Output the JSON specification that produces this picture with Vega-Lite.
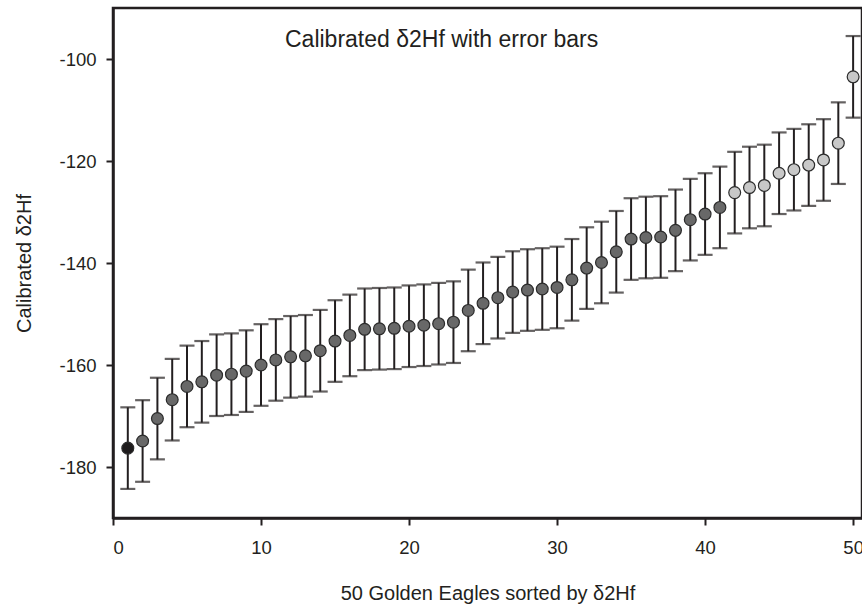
{
  "$schema": "https://vega.github.io/schema/vega-lite/v6.json",
  "width": 749,
  "height": 510,
  "autosize": "none",
  "padding": {"left": 113, "top": 8, "right": 0, "bottom": 90},
  "background": "white",
  "config": {
    "view": {"stroke": "#231f20", "strokeWidth": 2.5},
    "font": "Liberation Sans"
  },
  "title": {
    "text": "Calibrated δ2Hf with error bars",
    "font": "Liberation Sans",
    "fontSize": 23,
    "fontWeight": "normal",
    "color": "#231f20",
    "anchor": "start",
    "frame": "group",
    "dx": 172,
    "baseline": "top",
    "offset": -44
  },
  "data": {
    "values": [
      {"n": 1, "v": -176.3, "lo": -184.3, "hi": -168.3, "g": "a"},
      {"n": 2, "v": -174.9, "lo": -182.9, "hi": -166.9, "g": "b"},
      {"n": 3, "v": -170.5, "lo": -178.5, "hi": -162.5, "g": "b"},
      {"n": 4, "v": -166.8, "lo": -174.8, "hi": -158.8, "g": "b"},
      {"n": 5, "v": -164.2, "lo": -172.2, "hi": -156.2, "g": "b"},
      {"n": 6, "v": -163.3, "lo": -171.3, "hi": -155.3, "g": "b"},
      {"n": 7, "v": -162.0, "lo": -170.0, "hi": -154.0, "g": "b"},
      {"n": 8, "v": -161.8, "lo": -169.8, "hi": -153.8, "g": "b"},
      {"n": 9, "v": -161.2, "lo": -169.2, "hi": -153.2, "g": "b"},
      {"n": 10, "v": -160.0, "lo": -168.0, "hi": -152.0, "g": "b"},
      {"n": 11, "v": -159.0, "lo": -167.0, "hi": -151.0, "g": "b"},
      {"n": 12, "v": -158.4, "lo": -166.4, "hi": -150.4, "g": "b"},
      {"n": 13, "v": -158.2, "lo": -166.2, "hi": -150.2, "g": "b"},
      {"n": 14, "v": -157.2, "lo": -165.2, "hi": -149.2, "g": "b"},
      {"n": 15, "v": -155.3, "lo": -163.3, "hi": -147.3, "g": "b"},
      {"n": 16, "v": -154.2, "lo": -162.2, "hi": -146.2, "g": "b"},
      {"n": 17, "v": -153.0, "lo": -161.0, "hi": -145.0, "g": "b"},
      {"n": 18, "v": -152.9, "lo": -160.9, "hi": -144.9, "g": "b"},
      {"n": 19, "v": -152.8, "lo": -160.8, "hi": -144.8, "g": "b"},
      {"n": 20, "v": -152.4, "lo": -160.4, "hi": -144.4, "g": "b"},
      {"n": 21, "v": -152.2, "lo": -160.2, "hi": -144.2, "g": "b"},
      {"n": 22, "v": -151.9, "lo": -159.9, "hi": -143.9, "g": "b"},
      {"n": 23, "v": -151.6, "lo": -159.6, "hi": -143.6, "g": "b"},
      {"n": 24, "v": -149.3, "lo": -157.3, "hi": -141.3, "g": "b"},
      {"n": 25, "v": -147.9, "lo": -155.9, "hi": -139.9, "g": "b"},
      {"n": 26, "v": -146.8, "lo": -154.8, "hi": -138.8, "g": "b"},
      {"n": 27, "v": -145.7, "lo": -153.7, "hi": -137.7, "g": "b"},
      {"n": 28, "v": -145.3, "lo": -153.3, "hi": -137.3, "g": "b"},
      {"n": 29, "v": -145.1, "lo": -153.1, "hi": -137.1, "g": "b"},
      {"n": 30, "v": -144.8, "lo": -152.8, "hi": -136.8, "g": "b"},
      {"n": 31, "v": -143.3, "lo": -151.3, "hi": -135.3, "g": "b"},
      {"n": 32, "v": -141.0, "lo": -149.0, "hi": -133.0, "g": "b"},
      {"n": 33, "v": -139.9, "lo": -147.9, "hi": -131.9, "g": "b"},
      {"n": 34, "v": -137.8, "lo": -145.8, "hi": -129.8, "g": "b"},
      {"n": 35, "v": -135.3, "lo": -143.3, "hi": -127.3, "g": "b"},
      {"n": 36, "v": -135.0, "lo": -143.0, "hi": -127.0, "g": "b"},
      {"n": 37, "v": -134.9, "lo": -142.9, "hi": -126.9, "g": "b"},
      {"n": 38, "v": -133.6, "lo": -141.6, "hi": -125.6, "g": "b"},
      {"n": 39, "v": -131.5, "lo": -139.5, "hi": -123.5, "g": "b"},
      {"n": 40, "v": -130.4, "lo": -138.4, "hi": -122.4, "g": "b"},
      {"n": 41, "v": -129.1, "lo": -137.1, "hi": -121.1, "g": "b"},
      {"n": 42, "v": -126.2, "lo": -134.2, "hi": -118.2, "g": "c"},
      {"n": 43, "v": -125.2, "lo": -133.2, "hi": -117.2, "g": "c"},
      {"n": 44, "v": -124.8, "lo": -132.8, "hi": -116.8, "g": "c"},
      {"n": 45, "v": -122.4, "lo": -130.4, "hi": -114.4, "g": "c"},
      {"n": 46, "v": -121.7, "lo": -129.7, "hi": -113.7, "g": "c"},
      {"n": 47, "v": -120.8, "lo": -128.8, "hi": -112.8, "g": "c"},
      {"n": 48, "v": -119.8, "lo": -127.8, "hi": -111.8, "g": "c"},
      {"n": 49, "v": -116.5, "lo": -124.5, "hi": -108.5, "g": "c"},
      {"n": 50, "v": -103.5, "lo": -111.5, "hi": -95.5, "g": "c"}
    ]
  },
  "encoding": {
    "x": {
      "field": "n",
      "type": "quantitative",
      "scale": {"domain": [0, 50.6], "nice": false, "zero": false},
      "axis": {
        "values": [0, 10, 20, 30, 40, 50],
        "title": "50 Golden Eagles sorted by δ2Hf",
        "grid": false,
        "domainColor": "#231f20",
        "domainWidth": 2.5,
        "tickColor": "#231f20",
        "tickWidth": 2,
        "tickSize": 7,
        "labelFont": "Liberation Sans",
        "labelFontSize": 18.5,
        "labelColor": "#231f20",
        "labelPadding": 13,
        "titleFont": "Liberation Sans",
        "titleFontSize": 20,
        "titleFontWeight": "normal",
        "titleColor": "#231f20",
        "titlePadding": 27
      }
    }
  },
  "layer": [
    {
      "mark": {"type": "rule", "color": "#231f20", "strokeWidth": 2},
      "encoding": {
        "y": {
          "field": "lo",
          "type": "quantitative",
          "scale": {"domain": [-190, -90], "nice": false, "zero": false},
          "axis": {
            "values": [-180, -160, -140, -120, -100],
            "labelExpr": "replace(datum.label, '−', '-')",
            "title": "Calibrated δ2Hf",
            "grid": false,
            "domainColor": "#231f20",
            "domainWidth": 2.5,
            "tickColor": "#231f20",
            "tickWidth": 2,
            "tickSize": 7,
            "labelFont": "Liberation Sans",
            "labelFontSize": 18.5,
            "labelColor": "#231f20",
            "labelPadding": 10,
            "titleFont": "Liberation Sans",
            "titleFontSize": 20,
            "titleFontWeight": "normal",
            "titleColor": "#231f20",
            "titlePadding": 24
          }
        },
        "y2": {"field": "hi"}
      }
    },
    {
      "mark": {"type": "tick", "orient": "horizontal", "color": "#231f20", "size": 15, "thickness": 2.2},
      "encoding": {"y": {"field": "lo", "type": "quantitative"}}
    },
    {
      "mark": {"type": "tick", "orient": "horizontal", "color": "#231f20", "size": 15, "thickness": 2.2},
      "encoding": {"y": {"field": "hi", "type": "quantitative"}}
    },
    {
      "mark": {"type": "point", "shape": "circle", "filled": true, "size": 140, "opacity": 1, "stroke": "#2b2b2b", "strokeWidth": 1.2},
      "encoding": {
        "y": {"field": "v", "type": "quantitative"},
        "fill": {
          "field": "g",
          "type": "nominal",
          "scale": {"domain": ["a", "b", "c"], "range": ["#1e1b1c", "#686868", "#c8c8c8"]},
          "legend": null
        }
      }
    }
  ]
}
